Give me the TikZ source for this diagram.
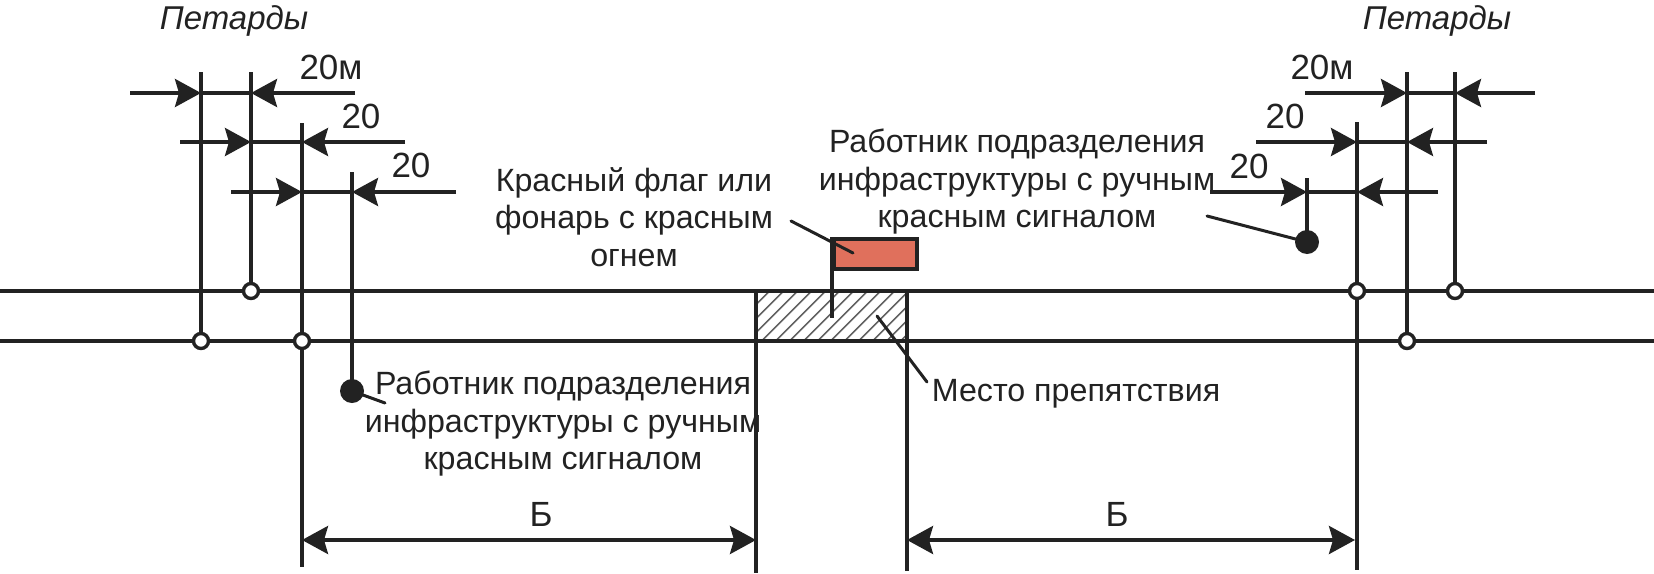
\documentclass[tikz,border=0pt]{standalone}
\usepackage{fontspec}
\setmainfont{Liberation Sans}
\usetikzlibrary{arrows.meta,patterns.meta}
\definecolor{ink}{HTML}{222222}
\definecolor{flagred}{HTML}{E0705C}
\tikzset{
  x=1pt,y=-1pt,
  line/.style={draw=ink,line width=3.6pt},
  thin leader/.style={draw=ink,line width=3pt,line cap=round},
  dimarrow/.style={draw=ink,line width=3.6pt,-{Stealth[length=26pt,width=28pt,inset=4pt]}},
  label/.style={text=ink,font=\fontsize{32.2}{37.5}\selectfont,align=center,inner sep=0pt},
  dimtext/.style={text=ink,font=\fontsize{35}{40}\selectfont,inner sep=0pt,anchor=base},
  italictext/.style={text=ink,font=\fontsize{33}{38.5}\selectfont\itshape,inner sep=0pt,anchor=base},
  petard/.style={circle,draw=ink,fill=white,line width=3.4pt,minimum size=15pt,inner sep=0pt},
  worker/.style={circle,fill=ink,minimum size=24pt,inner sep=0pt},
}
\begin{document}
\begin{tikzpicture}
\useasboundingbox (0,0) rectangle (1654,573);
\fill[white] (0,0) rectangle (1654,573);
% rails
\coordinate (r1l) at (0,291); \coordinate (r1r) at (1654,291);
\coordinate (r2l) at (0,341); \coordinate (r2r) at (1654,341);
% hatched obstacle
\fill[white,pattern={Lines[angle=45,distance=10.5pt,line width=2pt]},pattern color=ink!70] (756,291) rectangle (907,341);
\draw[line] (r1l) -- (r1r);
\draw[line] (r2l) -- (r2r);
% tops/bottoms
\coordinate (lt1) at (201,72); \coordinate (lt2) at (251,72); \coordinate (lt3) at (302,123); \coordinate (lt4) at (352,172);
\coordinate (rt1) at (1307,178); \coordinate (rt2) at (1357,122); \coordinate (rt3) at (1407,72); \coordinate (rt4) at (1455,72);
\coordinate (lb3) at (302,567); \coordinate (rb2) at (1357,570);
\coordinate (ob1t) at (756,291); \coordinate (ob1b) at (756,573);
\coordinate (ob2t) at (907,291); \coordinate (ob2b) at (907,571);
% verticals
\draw[line] (lt1) -- (201,341);
\draw[line] (lt2) -- (251,291);
\draw[line] (lt3) -- (lb3);
\draw[line] (lt4) -- (352,392);
\draw[line] (rt1) -- (1307,242);
\draw[line] (rt2) -- (rb2);
\draw[line] (rt3) -- (1407,341);
\draw[line] (rt4) -- (1455,291);
\draw[line] (ob1t) -- (ob1b);
\draw[line] (ob2t) -- (ob2b);
% petards
\node[petard] (pl1) at (201,341) {};
\node[petard] (pl2) at (251,291) {};
\node[petard] (pl3) at (302,341) {};
\node[petard] (pr1) at (1357,291) {};
\node[petard] (pr2) at (1407,341) {};
\node[petard] (pr3) at (1455,291) {};
% workers
\node[worker] (wl) at (352,391) {};
\node[worker] (wr) at (1307,242) {};
% flag
\node[draw=ink,fill=flagred,line width=3.6pt,minimum width=83pt,minimum height=30pt,inner sep=0pt,anchor=north west] (flag) at (832,237) {};
\coordinate (polebot) at (832,318);
\draw[line] (flag.north west) -- (polebot);
% dimension lines: left
\foreach \yy/\xa/\xb/\xc/\xd in {93/130/201/251/355, 142/180/251/302/405, 192/231/302/352/456}{
  \coordinate (fa) at (\xa,\yy); \coordinate (ta) at (\xb,\yy);
  \coordinate (tb) at (\xc,\yy); \coordinate (fb) at (\xd,\yy);
  \draw[line] (ta) -- (tb);
  \draw[dimarrow] (fa) -- (ta);
  \draw[dimarrow] (fb) -- (tb);
}
% dimension lines: right
\foreach \yy/\xa/\xb/\xc/\xd in {93/1305/1407/1455/1535, 142/1256/1357/1407/1487, 192/1210/1307/1357/1438}{
  \coordinate (fa) at (\xa,\yy); \coordinate (ta) at (\xb,\yy);
  \coordinate (tb) at (\xc,\yy); \coordinate (fb) at (\xd,\yy);
  \draw[line] (ta) -- (tb);
  \draw[dimarrow] (fa) -- (ta);
  \draw[dimarrow] (fb) -- (tb);
}
% B dimensions
\coordinate (b1l) at (302,540); \coordinate (b1r) at (756,540);
\coordinate (b2l) at (907,540); \coordinate (b2r) at (1355,540);
\draw[draw=ink,line width=3.6pt,{Stealth[length=26pt,width=28pt,inset=4pt]}-{Stealth[length=26pt,width=28pt,inset=4pt]}] (b1l) -- (b1r);
\draw[draw=ink,line width=3.6pt,{Stealth[length=26pt,width=28pt,inset=4pt]}-{Stealth[length=26pt,width=28pt,inset=4pt]}] (b2l) -- (b2r);
% texts
\node[italictext] (tp1) at (234,29) {Петарды};
\node[italictext] (tp2) at (1437,29) {Петарды};
\node[dimtext] (t20m1) at (331,79) {20м};
\node[dimtext] (t201) at (361,128) {20};
\node[dimtext] (t202) at (411,177) {20};
\node[dimtext] (t20m2) at (1322,79) {20м};
\node[dimtext] (t203) at (1285,128) {20};
\node[dimtext] (t204) at (1249,178) {20};
\node[dimtext] (tb1) at (541,526) {Б};
\node[dimtext] (tb2) at (1117,526) {Б};
\node[label] (tw1) at (563,424) {Работник подразделения\\инфраструктуры с ручным\\красным сигналом};
\node[label] (tw2) at (1017,182) {Работник подразделения\\инфраструктуры с ручным\\красным сигналом};
\node[label] (tf) at (634,217) {Красный флаг или\\фонарь с красным\\огнем};
\node[label] (to) at (1076,394) {Место препятствия};
% leaders
\coordinate (lf1) at (791,221); \coordinate (lf2) at (853,253);
\coordinate (lo1) at (877,316); \coordinate (lo2) at (927,382);
\coordinate (lwl) at (385,403); \coordinate (lwr) at (1207,216);
\draw[thin leader] (lf1) -- (lf2);
\draw[thin leader] (lo1) -- (lo2);
\draw[thin leader] (wl.center) -- (lwl);
\draw[thin leader] (lwr) -- (wr.center);
\end{tikzpicture}
\end{document}
